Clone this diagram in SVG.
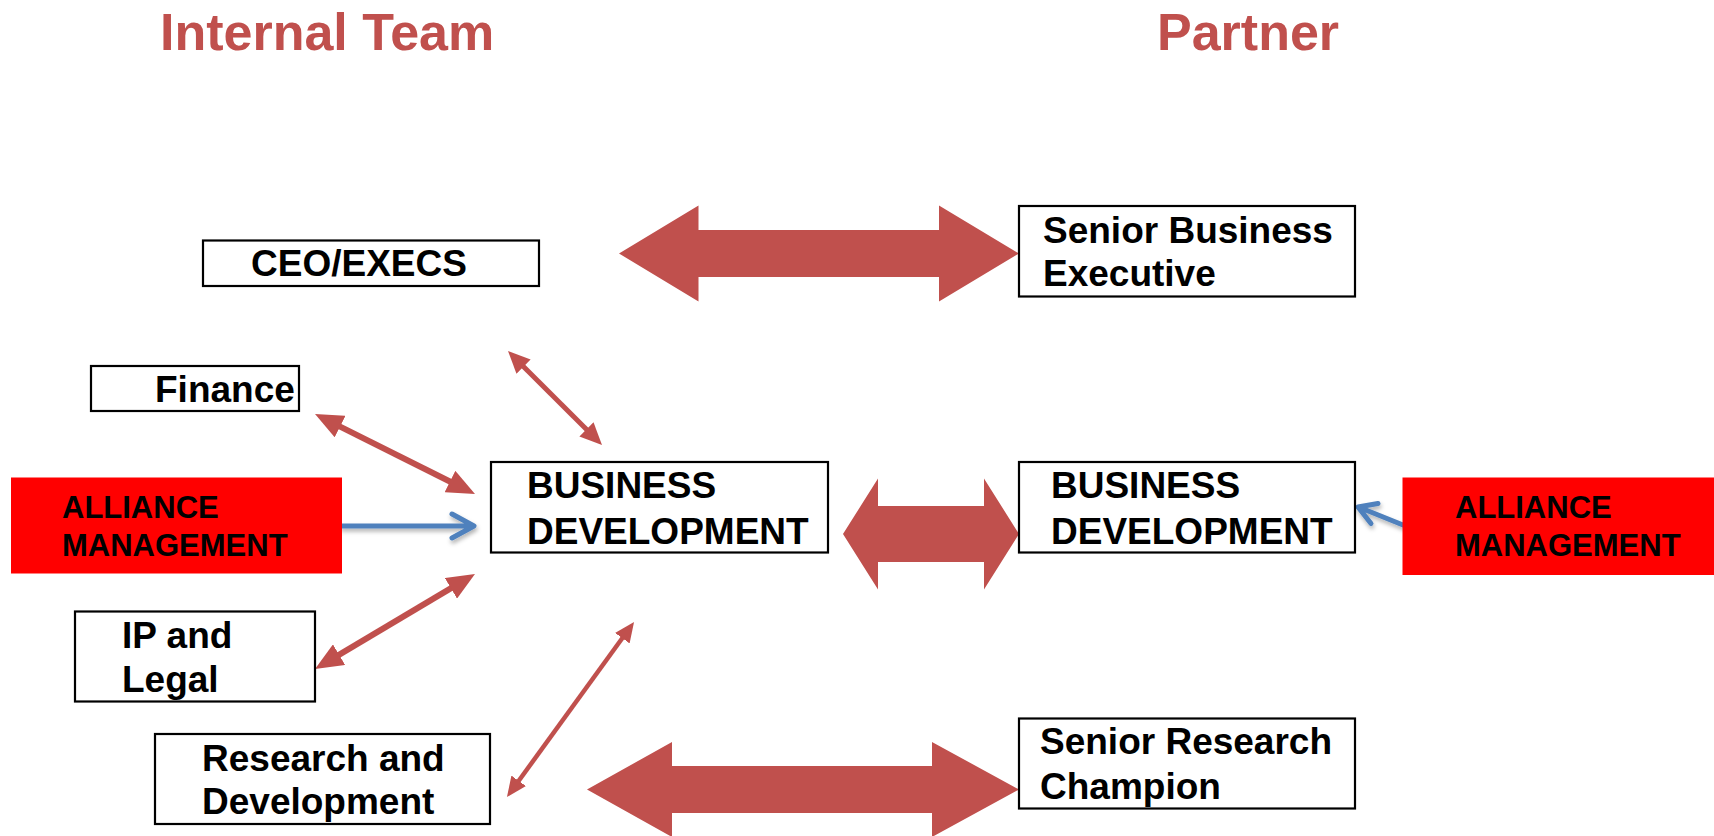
<svg xmlns="http://www.w3.org/2000/svg" width="1714" height="836" viewBox="0 0 1714 836">
<style>
text{font-family:"Liberation Sans",Arial,sans-serif;font-weight:bold;fill:#000}
.title{font-size:52px;fill:#C0504D}
.bx{fill:#fff;stroke:#000;stroke-width:2.2}
.red{fill:#FF0000;stroke:none}
.t{font-size:37px}
.a{font-size:31px}
.big{fill:#C0504D}
.ln{stroke:#C0504D;fill:none}
.blue{stroke:#4F81BD;fill:none;stroke-width:5;stroke-linecap:round;stroke-linejoin:round}
</style>
<defs>
<marker id="hb" markerUnits="userSpaceOnUse" viewBox="0 0 28 24" markerWidth="28" markerHeight="24" refX="10" refY="12" orient="auto-start-reverse"><path d="M0,0 L28,12 L0,24 Z" fill="#C0504D"/></marker>
<marker id="hm" markerUnits="userSpaceOnUse" viewBox="0 0 22 20" markerWidth="22" markerHeight="20" refX="8" refY="10" orient="auto-start-reverse"><path d="M0,0 L22,10 L0,20 Z" fill="#C0504D"/></marker>
<marker id="hs" markerUnits="userSpaceOnUse" viewBox="0 0 20 18" markerWidth="20" markerHeight="18" refX="7" refY="9" orient="auto-start-reverse"><path d="M0,0 L20,9 L0,18 Z" fill="#C0504D"/></marker>
<filter id="sh" x="-20%" y="-50%" width="140%" height="200%"><feDropShadow dx="1" dy="3" stdDeviation="2" flood-color="#000" flood-opacity="0.3"/></filter>
</defs>

<text class="title" x="160" y="50">Internal Team</text>
<text class="title" x="1157" y="50">Partner</text>

<g id="connectors">
<polygon class="big" points="619,253.5 698.5,205.5 698.5,230 939,230 939,205.5 1019,253.5 939,301.5 939,277 698.5,277 698.5,301.5"/>
<polygon class="big" points="843,534 878,478.5 878,506 984,506 984,478.5 1019,534 984,589.5 984,562 878,562 878,589.5"/>
<polygon class="big" points="587,789.5 672,742 672,766 932,766 932,742 1019,789.5 932,837 932,813 672,813 672,837"/>
<line class="ln" x1="517.9" y1="360.9" x2="592.1" y2="435.1" stroke-width="5" marker-start="url(#hm)" marker-end="url(#hm)"/>
<line class="ln" x1="331.1" y1="422.1" x2="458.9" y2="486" stroke-width="6" marker-start="url(#hb)" marker-end="url(#hb)"/>
<line class="ln" x1="459.5" y1="583.2" x2="330.5" y2="659.8" stroke-width="6" marker-start="url(#hb)" marker-end="url(#hb)"/>
<line class="ln" x1="626.4" y1="632.5" x2="514.6" y2="786.5" stroke-width="4.5" marker-start="url(#hs)" marker-end="url(#hs)"/>
<g filter="url(#sh)">
<path class="blue" d="M342,526 H472 M452,514 L474,526 L452,538"/>
<path class="blue" d="M1403,525 L1359,507.3 M1371,523.5 L1358,507 L1378,503.5"/>
</g>
</g>

<g id="ceo">
<rect class="bx" x="203" y="240.5" width="336" height="45.5"/>
<text class="t" x="251" y="275.5">CEO/EXECS</text>
</g>
<g id="finance">
<rect class="bx" x="91" y="366" width="208" height="45"/>
<text class="t" x="155" y="402">Finance</text>
</g>
<g id="alliance-left">
<rect class="red" x="11" y="477.5" width="331" height="96"/>
<text class="a" x="62" y="517.5">ALLIANCE</text>
<text class="a" x="62" y="555.5">MANAGEMENT</text>
</g>
<g id="bd-left">
<rect class="bx" x="491" y="462" width="337" height="90.5"/>
<text class="t" x="527" y="497.5">BUSINESS</text>
<text class="t" x="527" y="543.5">DEVELOPMENT</text>
</g>
<g id="ip-legal">
<rect class="bx" x="75" y="611.5" width="240" height="90"/>
<text class="t" x="122" y="648">IP and</text>
<text class="t" x="122" y="692">Legal</text>
</g>
<g id="rnd">
<rect class="bx" x="155" y="734" width="335" height="90"/>
<text class="t" x="202" y="770.5">Research and</text>
<text class="t" x="202" y="814">Development</text>
</g>
<g id="senior-business">
<rect class="bx" x="1019" y="206" width="336" height="90.5"/>
<text class="t" x="1043" y="243">Senior Business</text>
<text class="t" x="1043" y="285.5">Executive</text>
</g>
<g id="bd-right">
<rect class="bx" x="1019" y="462" width="336" height="90.5"/>
<text class="t" x="1051" y="497.5">BUSINESS</text>
<text class="t" x="1051" y="543.5">DEVELOPMENT</text>
</g>
<g id="alliance-right">
<rect class="red" x="1402.5" y="477.5" width="311.5" height="97.5"/>
<text class="a" x="1455" y="517.5">ALLIANCE</text>
<text class="a" x="1455" y="556">MANAGEMENT</text>
</g>
<g id="senior-research">
<rect class="bx" x="1019" y="718.5" width="336" height="90"/>
<text class="t" x="1040" y="754">Senior Research</text>
<text class="t" x="1040" y="799">Champion</text>
</g>
</svg>
